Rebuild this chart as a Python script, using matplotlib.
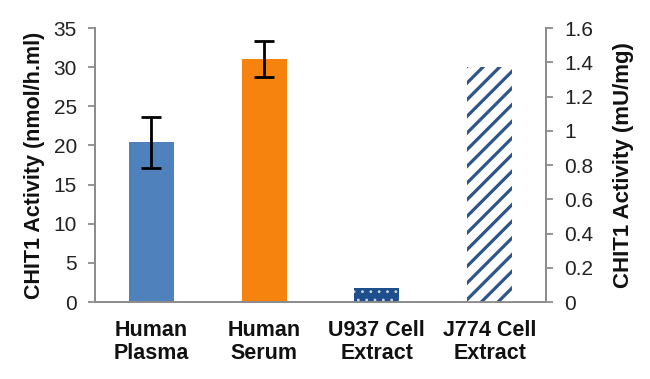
import numpy as np
import matplotlib.pyplot as plt

plt.rcParams['font.family'] = ['Liberation Sans', 'DejaVu Sans']

categories = ['Human\nPlasma', 'Human\nSerum', 'U937 Cell\nExtract', 'J774 Cell\nExtract']

# left axis (nmol/h.ml)
left_vals = [20.4, 31.1]
left_err = [3.3, 2.3]
# right axis (mU/mg)
right_vals = [0.085, 1.37]

left_ticks = [0, 5, 10, 15, 20, 25, 30, 35]
right_ticks = [0, 0.2, 0.4, 0.6, 0.8, 1, 1.2, 1.4, 1.6]
right_ticklabels = ['0', '0.2', '0.4', '0.6', '0.8', '1', '1.2', '1.4', '1.6']

grey = '#8c8c8c'
x = np.arange(len(categories))
w = 0.4

fig = plt.figure(figsize=(6.5, 3.79), dpi=100)
ax = fig.add_axes([0.146, 0.203, 0.694, 0.723])
ax2 = ax.twinx()

ax.bar(x[0], left_vals[0], w, color='#4f81bd', zorder=2)
ax.bar(x[1], left_vals[1], w, color='#f7830f', zorder=2)
ax.errorbar(x[:2], left_vals, yerr=left_err, fmt='none', ecolor='black',
            elinewidth=2, capsize=7, capthick=2, zorder=3)

# hatch linewidth is picked up when the patch is made
plt.rcParams['hatch.linewidth'] = 0.8
ax2.bar(x[2], right_vals[0], w, color='#1f4e8c', edgecolor='#c8d4e6',
        hatch='..', linewidth=0)
plt.rcParams['hatch.linewidth'] = 2.3
ax2.bar(x[3], right_vals[1], w, color='white', edgecolor='#2d5587',
        hatch='//', linewidth=0)

ax.set_xlim(-0.5, 3.5)
ax.set_ylim(0, 35)
ax2.set_ylim(0, 1.6)
ax.set_yticks(left_ticks)
ax2.set_yticks(right_ticks)
ax2.set_yticklabels(right_ticklabels)
ax.set_xticks(x)
ax.set_xticklabels(categories, fontsize=15.5, fontweight='bold', linespacing=1.1)

for a in (ax, ax2):
    a.spines['top'].set_visible(False)
    for s in ('left', 'right', 'bottom'):
        a.spines[s].set_color(grey)
        a.spines[s].set_linewidth(1.3)
    a.tick_params(axis='y', colors=grey, labelcolor='#222222', labelsize=15,
                  length=5, width=1.3, pad=8)
ax.tick_params(axis='x', length=0, pad=13, labelcolor='#111111')

ax.set_ylabel('CHIT1 Activity (nmol/h.ml)', fontsize=15.5, fontweight='bold',
              color='#111111', labelpad=6)
ax2.set_ylabel('CHIT1 Activity (mU/mg)', fontsize=16, fontweight='bold',
               color='#111111', labelpad=14)

fig.savefig('out.png', dpi=100)
